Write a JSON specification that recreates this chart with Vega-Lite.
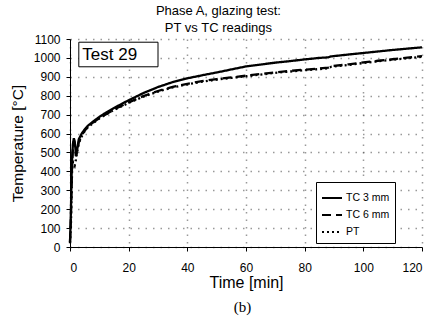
{
  "$schema": "https://vega.github.io/schema/vega-lite/v6.json",
  "padding": {"left": 10, "top": 5, "right": 18, "bottom": 2},
  "background": "white",
  "config": {
    "font": "Liberation Sans",
    "view": {"stroke": null},
    "axis": {
      "domainColor": "black",
      "tickColor": "black",
      "labelColor": "black",
      "titleColor": "black",
      "labelFontSize": 12,
      "labelOverlap": false,
      "format": "d",
      "titleFontWeight": "normal",
      "gridColor": "#555555",
      "gridDash": [1.5, 6],
      "gridWidth": 1.5,
      "gridOpacity": 0.6
    }
  },
  "title": {
    "text": "(b)",
    "orient": "bottom",
    "anchor": "middle",
    "font": "Liberation Serif",
    "fontSize": 15,
    "fontWeight": "normal",
    "color": "black",
    "dx": 24,
    "offset": 10
  },
  "datasets": {
    "series": [
      {"t": 0, "T": 25, "s": "TC 3 mm"},
      {"t": 0.3, "T": 180, "s": "TC 3 mm"},
      {"t": 0.5, "T": 350, "s": "TC 3 mm"},
      {"t": 0.7, "T": 470, "s": "TC 3 mm"},
      {"t": 1, "T": 545, "s": "TC 3 mm"},
      {"t": 1.3, "T": 575, "s": "TC 3 mm"},
      {"t": 1.6, "T": 560, "s": "TC 3 mm"},
      {"t": 2, "T": 495, "s": "TC 3 mm"},
      {"t": 2.4, "T": 510, "s": "TC 3 mm"},
      {"t": 3, "T": 570, "s": "TC 3 mm"},
      {"t": 4, "T": 600, "s": "TC 3 mm"},
      {"t": 5, "T": 622, "s": "TC 3 mm"},
      {"t": 6, "T": 640, "s": "TC 3 mm"},
      {"t": 8, "T": 665, "s": "TC 3 mm"},
      {"t": 10, "T": 688, "s": "TC 3 mm"},
      {"t": 12, "T": 708, "s": "TC 3 mm"},
      {"t": 15, "T": 735, "s": "TC 3 mm"},
      {"t": 18, "T": 760, "s": "TC 3 mm"},
      {"t": 20, "T": 776, "s": "TC 3 mm"},
      {"t": 25, "T": 814, "s": "TC 3 mm"},
      {"t": 30, "T": 846, "s": "TC 3 mm"},
      {"t": 35, "T": 872, "s": "TC 3 mm"},
      {"t": 40, "T": 892, "s": "TC 3 mm"},
      {"t": 45, "T": 908, "s": "TC 3 mm"},
      {"t": 50, "T": 923, "s": "TC 3 mm"},
      {"t": 55, "T": 939, "s": "TC 3 mm"},
      {"t": 60, "T": 955, "s": "TC 3 mm"},
      {"t": 65, "T": 965, "s": "TC 3 mm"},
      {"t": 70, "T": 975, "s": "TC 3 mm"},
      {"t": 75, "T": 983, "s": "TC 3 mm"},
      {"t": 80, "T": 992, "s": "TC 3 mm"},
      {"t": 85, "T": 1000, "s": "TC 3 mm"},
      {"t": 88, "T": 1003, "s": "TC 3 mm"},
      {"t": 89, "T": 1008, "s": "TC 3 mm"},
      {"t": 95, "T": 1018, "s": "TC 3 mm"},
      {"t": 100, "T": 1026, "s": "TC 3 mm"},
      {"t": 105, "T": 1034, "s": "TC 3 mm"},
      {"t": 110, "T": 1042, "s": "TC 3 mm"},
      {"t": 115, "T": 1049, "s": "TC 3 mm"},
      {"t": 120, "T": 1056, "s": "TC 3 mm"},
      {"t": 0, "T": 25, "s": "TC 6 mm"},
      {"t": 0.3, "T": 140, "s": "TC 6 mm"},
      {"t": 0.5, "T": 300, "s": "TC 6 mm"},
      {"t": 0.7, "T": 430, "s": "TC 6 mm"},
      {"t": 1, "T": 520, "s": "TC 6 mm"},
      {"t": 1.3, "T": 560, "s": "TC 6 mm"},
      {"t": 1.6, "T": 545, "s": "TC 6 mm"},
      {"t": 2, "T": 480, "s": "TC 6 mm"},
      {"t": 2.4, "T": 500, "s": "TC 6 mm"},
      {"t": 3, "T": 555, "s": "TC 6 mm"},
      {"t": 4, "T": 590, "s": "TC 6 mm"},
      {"t": 5, "T": 615, "s": "TC 6 mm"},
      {"t": 6, "T": 635, "s": "TC 6 mm"},
      {"t": 8, "T": 660, "s": "TC 6 mm"},
      {"t": 10, "T": 682, "s": "TC 6 mm"},
      {"t": 12, "T": 700, "s": "TC 6 mm"},
      {"t": 15, "T": 727, "s": "TC 6 mm"},
      {"t": 18, "T": 750, "s": "TC 6 mm"},
      {"t": 20, "T": 765, "s": "TC 6 mm"},
      {"t": 25, "T": 798, "s": "TC 6 mm"},
      {"t": 30, "T": 825, "s": "TC 6 mm"},
      {"t": 35, "T": 847, "s": "TC 6 mm"},
      {"t": 40, "T": 863, "s": "TC 6 mm"},
      {"t": 45, "T": 877, "s": "TC 6 mm"},
      {"t": 50, "T": 888, "s": "TC 6 mm"},
      {"t": 55, "T": 897, "s": "TC 6 mm"},
      {"t": 60, "T": 906, "s": "TC 6 mm"},
      {"t": 65, "T": 915, "s": "TC 6 mm"},
      {"t": 70, "T": 924, "s": "TC 6 mm"},
      {"t": 75, "T": 931, "s": "TC 6 mm"},
      {"t": 80, "T": 938, "s": "TC 6 mm"},
      {"t": 85, "T": 944, "s": "TC 6 mm"},
      {"t": 88, "T": 948, "s": "TC 6 mm"},
      {"t": 89, "T": 956, "s": "TC 6 mm"},
      {"t": 95, "T": 966, "s": "TC 6 mm"},
      {"t": 100, "T": 976, "s": "TC 6 mm"},
      {"t": 105, "T": 985, "s": "TC 6 mm"},
      {"t": 110, "T": 993, "s": "TC 6 mm"},
      {"t": 115, "T": 1001, "s": "TC 6 mm"},
      {"t": 120, "T": 1010, "s": "TC 6 mm"},
      {"t": 0, "T": 20, "s": "PT"},
      {"t": 0.3, "T": 100, "s": "PT"},
      {"t": 0.5, "T": 250, "s": "PT"},
      {"t": 0.7, "T": 400, "s": "PT"},
      {"t": 1, "T": 450, "s": "PT"},
      {"t": 1.3, "T": 440, "s": "PT"},
      {"t": 1.6, "T": 430, "s": "PT"},
      {"t": 2, "T": 460, "s": "PT"},
      {"t": 2.4, "T": 500, "s": "PT"},
      {"t": 3, "T": 550, "s": "PT"},
      {"t": 4, "T": 585, "s": "PT"},
      {"t": 5, "T": 612, "s": "PT"},
      {"t": 6, "T": 632, "s": "PT"},
      {"t": 8, "T": 657, "s": "PT"},
      {"t": 10, "T": 680, "s": "PT"},
      {"t": 12, "T": 698, "s": "PT"},
      {"t": 15, "T": 725, "s": "PT"},
      {"t": 18, "T": 747, "s": "PT"},
      {"t": 20, "T": 762, "s": "PT"},
      {"t": 25, "T": 795, "s": "PT"},
      {"t": 30, "T": 822, "s": "PT"},
      {"t": 35, "T": 844, "s": "PT"},
      {"t": 40, "T": 860, "s": "PT"},
      {"t": 45, "T": 874, "s": "PT"},
      {"t": 50, "T": 885, "s": "PT"},
      {"t": 55, "T": 894, "s": "PT"},
      {"t": 60, "T": 903, "s": "PT"},
      {"t": 65, "T": 912, "s": "PT"},
      {"t": 70, "T": 921, "s": "PT"},
      {"t": 75, "T": 928, "s": "PT"},
      {"t": 80, "T": 935, "s": "PT"},
      {"t": 85, "T": 941, "s": "PT"},
      {"t": 88, "T": 945, "s": "PT"},
      {"t": 89, "T": 953, "s": "PT"},
      {"t": 95, "T": 963, "s": "PT"},
      {"t": 100, "T": 973, "s": "PT"},
      {"t": 105, "T": 982, "s": "PT"},
      {"t": 110, "T": 990, "s": "PT"},
      {"t": 115, "T": 998, "s": "PT"},
      {"t": 120, "T": 1006, "s": "PT"}
    ],
    "note": [
      {"label": "Test 29", "x0": 3, "x1": 30, "y0": 953, "y1": 1083, "xt": 4.2, "yt": 1018}
    ]
  },
  "vconcat": [
    {
      "width": 352,
      "height": 208,
      "title": {
        "text": ["Phase A, glazing test:", "PT vs TC readings"],
        "fontSize": 13,
        "fontWeight": "normal",
        "color": "black",
        "lineHeight": 17,
        "frame": "bounds",
        "anchor": "middle",
        "offset": -2
      },
      "layer": [
        {
          "data": {"name": "series"},
          "mark": {"type": "line", "color": "black", "strokeWidth": 2.3},
          "encoding": {
            "x": {
              "field": "t",
              "type": "quantitative",
              "scale": {"domain": [0, 120], "nice": false},
              "axis": {
                "title": "Time [min]",
                "titleFontSize": 16,
                "titlePadding": 1,
                "values": [0, 20, 40, 60, 80, 100, 120],
                "labelOverlap": false,
                "tickSize": 4,
                "labelPadding": 11,
                "grid": true
              }
            },
            "y": {
              "field": "T",
              "type": "quantitative",
              "scale": {"domain": [0, 1100], "nice": false},
              "axis": {
                "title": "Temperature [°C]",
                "titleFontSize": 15.5,
                "titlePadding": 8,
                "values": [0, 100, 200, 300, 400, 500, 600, 700, 800, 900, 1000, 1100],
                "labelOverlap": false,
                "tickSize": 4,
                "labelPadding": 6,
                "grid": true
              }
            },
            "strokeDash": {
              "field": "s",
              "type": "nominal",
              "scale": {
                "domain": ["TC 3 mm", "TC 6 mm", "PT"],
                "range": [[1, 0], [9, 5], [2, 3]]
              },
              "legend": {
                "title": null,
                "orient": "none",
                "legendX": 246,
                "legendY": 143,
                "fillColor": "white",
                "strokeColor": "black",
                "padding": 5,
                "labelFontSize": 10.5,
                "labelColor": "black",
                "labelOffset": 3,
                "symbolType": "stroke",
                "symbolSize": 400,
                "symbolStrokeColor": "black",
                "symbolStrokeWidth": 2,
                "rowPadding": 0
              }
            },
            "detail": {"field": "s"}
          }
        },
        {
          "data": {"name": "note"},
          "mark": {"type": "rect", "fill": "white", "stroke": "black", "strokeWidth": 1},
          "encoding": {
            "x": {
              "field": "x0",
              "type": "quantitative",
              "axis": {
                "title": "Time [min]",
                "titleFontSize": 16,
                "titlePadding": 1,
                "values": [0, 20, 40, 60, 80, 100, 120],
                "labelOverlap": false,
                "tickSize": 4,
                "labelPadding": 11,
                "grid": true
              }
            },
            "x2": {"field": "x1"},
            "y": {
              "field": "y0",
              "type": "quantitative",
              "axis": {
                "title": "Temperature [°C]",
                "titleFontSize": 15.5,
                "titlePadding": 8,
                "values": [0, 100, 200, 300, 400, 500, 600, 700, 800, 900, 1000, 1100],
                "labelOverlap": false,
                "tickSize": 4,
                "labelPadding": 6,
                "grid": true
              }
            },
            "y2": {"field": "y1"}
          }
        },
        {
          "data": {"name": "note"},
          "mark": {"type": "text", "align": "left", "baseline": "middle", "fontSize": 17, "color": "black"},
          "encoding": {
            "x": {
              "field": "xt",
              "type": "quantitative",
              "axis": {
                "title": "Time [min]",
                "titleFontSize": 16,
                "titlePadding": 1,
                "values": [0, 20, 40, 60, 80, 100, 120],
                "labelOverlap": false,
                "tickSize": 4,
                "labelPadding": 11,
                "grid": true
              }
            },
            "y": {
              "field": "yt",
              "type": "quantitative",
              "axis": {
                "title": "Temperature [°C]",
                "titleFontSize": 15.5,
                "titlePadding": 8,
                "values": [0, 100, 200, 300, 400, 500, 600, 700, 800, 900, 1000, 1100],
                "labelOverlap": false,
                "tickSize": 4,
                "labelPadding": 6,
                "grid": true
              }
            },
            "text": {"field": "label"}
          }
        }
      ]
    }
  ]
}
